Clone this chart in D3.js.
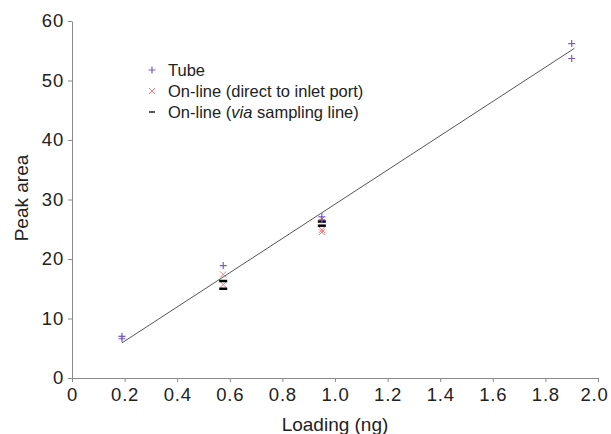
<!DOCTYPE html>
<html>
<head>
<meta charset="utf-8">
<script src="https://cdn.jsdelivr.net/npm/d3@7"></script>
<style>
  body { margin: 0; background: #fff; }
  text { font-family: "Liberation Sans", Arial, sans-serif; fill: #222; }
</style>
</head>
<body>
<svg id="chart" width="611" height="434"></svg>
<script>
// data
const tubeX = [0.19, 0.19, 0.575, 0.95, 0.95, 1.90, 1.90];
const tubeY = [7.0, 6.6, 18.9, 27.1, 26.6, 56.2, 53.7];
const directX = [0.575, 0.575, 0.95, 0.95, 0.95];
const directY = [17.4, 15.7, 26.7, 24.9, 24.5];
const viaX = [0.575, 0.575, 0.95, 0.95];
const viaY = [16.3, 15.0, 26.3, 25.6];
const fitX = [0.19, 1.91];
const fitY = [5.9, 55.4];
const xTicks = [0, 0.2, 0.4, 0.6, 0.8, 1.0, 1.2, 1.4, 1.6, 1.8, 2.0];
const yTicks = [0, 10, 20, 30, 40, 50, 60];

const margin = { top: 21, right: 13, bottom: 56, left: 72 };
const svg = d3.select("#chart");
const width = 611 - margin.left - margin.right;
const height = 434 - margin.top - margin.bottom;

const x = d3.scaleLinear().domain([0, 2]).range([0, width]);
const y = d3.scaleLinear().domain([0, 60]).range([height, 0]);

const g = svg.append("g")
  .attr("transform", "translate(" + margin.left + "," + margin.top + ")");

function styleAxis(sel) {
  sel.selectAll("path, line").attr("stroke", "#8a8a8a");
  sel.selectAll("text")
    .style("font-size", "18.5px")
    .style("letter-spacing", "0.8px")
    .attr("fill", "#222");
}

const xAxis = g.append("g")
  .attr("transform", "translate(0," + height + ")")
  .call(d3.axisBottom(x).tickValues(xTicks).tickSize(4).tickPadding(6).tickSizeOuter(0)
    .tickFormat(d => d === 0 ? "0" : d3.format(".1f")(d)))
  .call(styleAxis);

// keep the last label inside the page
xAxis.selectAll(".tick text").filter(d => d === 2).attr("dx", "-4px");

g.append("g")
  .call(d3.axisLeft(y).tickValues(yTicks).tickSize(4).tickPadding(4).tickSizeOuter(0))
  .call(styleAxis)
  .call(s => s.selectAll("text").attr("dy", "0.3em"));

// fit line
g.append("line")
  .attr("x1", x(fitX[0])).attr("y1", y(fitY[0]))
  .attr("x2", x(fitX[1])).attr("y2", y(fitY[1]))
  .attr("stroke", "#555").attr("stroke-width", 1);

function plus(sel, color) {
  sel.append("path").attr("d", "M-3.5,0H3.5M0,-3.5V3.5")
    .attr("stroke", color).attr("stroke-width", 1.2).attr("fill", "none");
}
function cross(sel, color) {
  sel.append("path").attr("d", "M-3,-3L3,3M-3,3L3,-3")
    .attr("stroke", color).attr("stroke-width", 1).attr("fill", "none");
}
function dash(sel, color) {
  sel.append("path").attr("d", "M-4,0H4")
    .attr("stroke", color).attr("stroke-width", 2.5).attr("fill", "none");
}

function points(xs, ys, marker, color) {
  g.append("g").selectAll("g")
    .data(xs.map((v, i) => [v, ys[i]]))
    .enter()
    .append("g")
    .attr("transform", d => "translate(" + x(d[0]) + "," + y(d[1]) + ")")
    .each(function () { marker(d3.select(this), color); });
}

points(directX, directY, cross, "#f07878");
points(viaX, viaY, dash, "#000");
points(tubeX, tubeY, plus, "#7a5cc8");

// legend
const legend = [
  { label: "Tube", marker: plus, color: "#7a5cc8" },
  { label: "On-line (direct to inlet port)", marker: cross, color: "#f07878" },
  { label: null, marker: (s) => s.append("path").attr("d", "M-3,0H3").attr("stroke", "#222").attr("stroke-width", 1.5), color: "#222" }
];
const lg = svg.append("g").attr("transform", "translate(152,70)");
legend.forEach((d, i) => {
  const row = lg.append("g").attr("transform", "translate(0," + (i * 21) + ")");
  d.marker(row, d.color);
  const t = row.append("text").attr("x", 16).attr("dy", "0.36em").style("font-size", "16.5px");
  if (d.label) {
    t.text(d.label);
  } else {
    t.append("tspan").text("On-line (");
    t.append("tspan").style("font-style", "italic").text("via");
    t.append("tspan").text(" sampling line)");
  }
});

// axis titles
svg.append("text")
  .attr("x", margin.left + width / 2).attr("y", 431)
  .attr("text-anchor", "middle").style("font-size", "19px")
  .text("Loading (ng)");

svg.append("text")
  .attr("transform", "translate(28,198) rotate(-90)")
  .attr("text-anchor", "middle").style("font-size", "19px")
  .text("Peak area");
</script>
</body>
</html>
